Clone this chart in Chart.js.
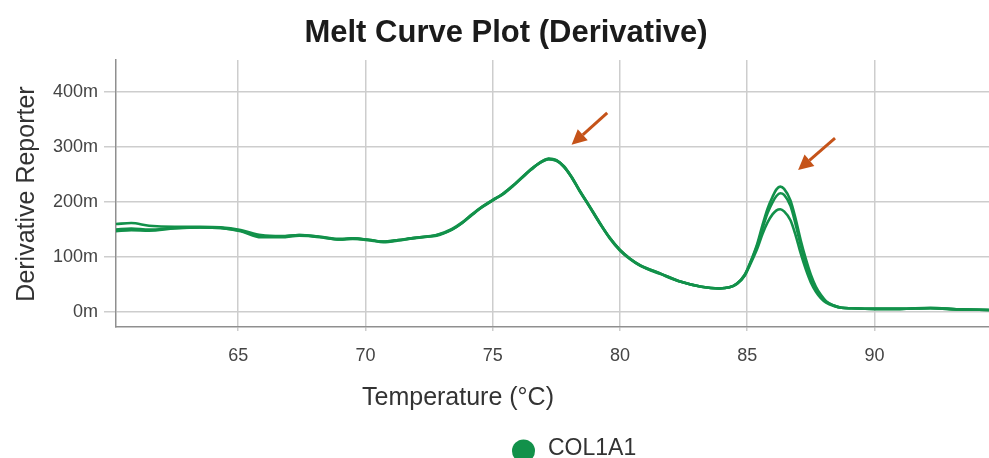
<!DOCTYPE html>
<html>
<head>
<meta charset="utf-8">
<script src="https://cdn.jsdelivr.net/npm/chart.js@4.4.1/dist/chart.umd.min.js"></script>
<style>
  html, body { margin: 0; padding: 0; background: #fff; }
  #melt-chart { display: block; }
</style>
</head>
<body>
<canvas id="melt-chart" width="989" height="458"></canvas>
<script>
// temperature (°C) of each reading
const temps = [60.2, 60.8, 61.5, 62.5, 63.5, 64.3, 65.1, 65.9, 66.7, 67.4,
  68.2, 69.0, 69.5, 70.2, 70.7, 71.3, 71.8, 72.3, 72.8, 73.4,
  73.8, 74.2, 74.6, 75.0, 75.4, 75.8, 76.2, 76.6, 76.9, 77.2,
  77.5, 77.8, 78.1, 78.4, 78.8, 79.2, 79.6, 80.0, 80.4, 80.8,
  81.6, 82.4, 83.2, 83.9, 84.3, 84.6, 84.9, 85.1, 85.4, 85.6,
  85.8, 86.0, 86.15, 86.3, 86.45, 86.7, 86.9, 87.1, 87.3, 87.5,
  87.7, 87.9, 88.1, 88.4, 88.7, 89.1, 90.0, 91.0, 92.2, 93.3, 94.5];

// derivative reporter (milli units), one array per replicate well
const rep1 = [160, 162, 157, 155, 155, 154, 149, 140, 138, 140,
  137, 132, 134, 131, 128, 131, 134, 137, 140, 150,
  162, 178, 192, 203, 215, 230, 247, 263, 273, 279,
  276, 264, 245, 222, 192, 162, 135, 113, 97, 85,
  70, 55, 46, 43, 45, 52, 68, 88, 125, 158,
  188, 210, 223, 228, 224, 203, 170, 131, 97, 68,
  46, 31, 20, 12, 8, 7, 6, 6, 8, 5, 4];
const rep2 = [150, 152, 150, 153, 154, 153, 147, 136, 136, 139,
  137, 133, 134, 130, 128, 131, 134, 136, 140, 151,
  163, 178, 191, 203, 215, 230, 247, 262, 273, 278,
  276, 264, 246, 222, 193, 163, 135, 113, 97, 85,
  70, 55, 46, 43, 45, 52, 67, 87, 122, 152,
  180, 200, 211, 216, 213, 193, 160, 122, 88, 62,
  42, 28, 19, 12, 8, 7, 6, 6, 7, 5, 4];
const rep3 = [147, 149, 148, 152, 154, 153, 148, 138, 137, 140,
  136, 132, 133, 131, 127, 130, 134, 137, 139, 150,
  162, 177, 192, 204, 214, 229, 246, 263, 272, 278,
  275, 265, 245, 221, 192, 162, 134, 112, 96, 84,
  69, 55, 46, 43, 45, 51, 66, 85, 116, 142,
  163, 178, 185, 187, 183, 167, 140, 107, 78, 54,
  37, 25, 17, 11, 8, 7, 6, 6, 7, 5, 4];

const yTicks = [0, 100, 200, 300, 400];
const xTicks = [65, 70, 75, 80, 85, 90];

// peak call-outs: tail and tip in data units
const arrows = [
  { from: [79.5, 362], to: [78.1, 304] },
  { from: [88.45, 316], to: [87.0, 258] }
];

const GREEN = '#12914a';
const FONT = '"Liberation Sans", Arial, sans-serif';

const toPoints = vals => temps.map((t, i) => ({ x: t, y: vals[i] }));

// title, axis titles, legend and arrows
const decorations = {
  id: 'decorations',
  afterDraw(chart) {
    const { ctx, scales } = chart;
    ctx.save();
    ctx.textAlign = 'center';
    ctx.textBaseline = 'middle';

    ctx.fillStyle = '#1b1b1b';
    ctx.font = 'bold 31px ' + FONT;
    ctx.fillText('Melt Curve Plot (Derivative)', 506, 33);

    ctx.fillStyle = '#333';
    ctx.font = '25px ' + FONT;
    ctx.fillText('Temperature (°C)', 458, 398);

    ctx.save();
    ctx.translate(27, 194);
    ctx.rotate(-Math.PI / 2);
    ctx.fillText('Derivative Reporter', 0, 0);
    ctx.restore();

    ctx.fillStyle = GREEN;
    ctx.beginPath();
    ctx.arc(523.5, 451, 11.5, 0, Math.PI * 2);
    ctx.fill();
    ctx.fillStyle = '#333';
    ctx.textAlign = 'left';
    ctx.font = '23px ' + FONT;
    ctx.fillText('COL1A1', 548, 449);

    ctx.strokeStyle = '#c55319';
    ctx.fillStyle = '#c55319';
    ctx.lineWidth = 3;
    arrows.forEach(a => {
      const x0 = scales.x.getPixelForValue(a.from[0]);
      const y0 = scales.y.getPixelForValue(a.from[1]);
      const x1 = scales.x.getPixelForValue(a.to[0]);
      const y1 = scales.y.getPixelForValue(a.to[1]);
      const ang = Math.atan2(y1 - y0, x1 - x0);
      const head = 15;
      const bx = x1 - head * Math.cos(ang);
      const by = y1 - head * Math.sin(ang);
      ctx.beginPath();
      ctx.moveTo(x0, y0);
      ctx.lineTo(bx, by);
      ctx.stroke();
      ctx.beginPath();
      ctx.moveTo(x1, y1);
      ctx.lineTo(bx + 7.5 * Math.sin(ang), by - 7.5 * Math.cos(ang));
      ctx.lineTo(bx - 7.5 * Math.sin(ang), by + 7.5 * Math.cos(ang));
      ctx.closePath();
      ctx.fill();
    });
    ctx.restore();
  }
};

const series = [rep1, rep2, rep3];

new Chart(document.getElementById('melt-chart'), {
  type: 'line',
  data: {
    datasets: series.map((vals, i) => ({
      label: 'COL1A1 ' + (i + 1),
      data: toPoints(vals),
      borderColor: GREEN,
      borderWidth: 2.6,
      pointRadius: 0,
      fill: false,
      cubicInterpolationMode: 'monotone'
    }))
  },
  options: {
    responsive: false,
    animation: false,
    devicePixelRatio: 1,
    layout: { padding: { top: 60, left: 0, right: 0, bottom: 0 } },
    plugins: {
      legend: { display: false },
      title: { display: false },
      tooltip: { enabled: false }
    },
    scales: {
      x: {
        type: 'linear',
        min: 60.2,
        max: 94.5,
        afterFit: s => { s.height = 131; },
        afterBuildTicks: s => { s.ticks = xTicks.map(v => ({ value: v })); },
        ticks: {
          color: '#444',
          font: { family: FONT, size: 18 },
          padding: 14
        },
        grid: { color: '#cdcdcd', lineWidth: 1.5, tickLength: 4 },
        border: { color: '#8f8f8f', width: 1.5 }
      },
      y: {
        min: -27,
        max: 458,
        afterFit: s => { s.width = 116; },
        afterBuildTicks: s => { s.ticks = yTicks.map(v => ({ value: v })); },
        ticks: {
          color: '#444',
          font: { family: FONT, size: 18 },
          padding: 6,
          callback: v => v + 'm'
        },
        grid: { color: '#cdcdcd', lineWidth: 1.5, tickLength: 12 },
        border: { color: '#8f8f8f', width: 1.5 }
      }
    }
  },
  plugins: [decorations]
});
</script>
</body>
</html>
